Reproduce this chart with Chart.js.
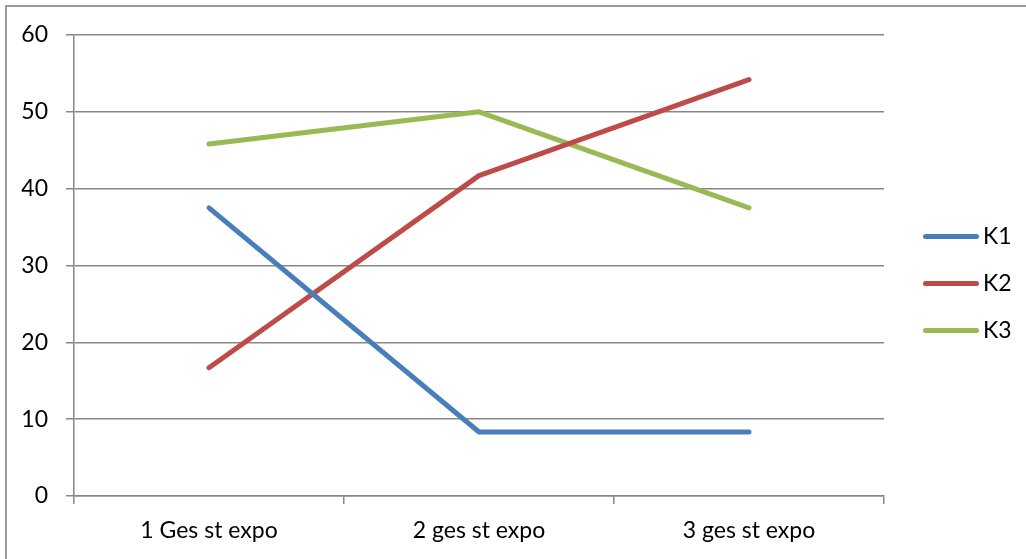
<!DOCTYPE html>
<html>
<head>
<meta charset="utf-8">
<script src="https://cdn.jsdelivr.net/npm/chart.js@4/dist/chart.umd.min.js"></script>
<style>
	body { margin: 0; background: #fff; }
	#wrap { position: relative; width: 1026px; height: 559px; overflow: hidden; }
	#frame { position: absolute; left: 5px; top: 5px; width: 1100px; height: 700px;
		border-left: 2px solid #9a9a9a; border-top: 2px solid #9a9a9a; pointer-events: none; }
	#legend { position: absolute; left: 923px; top: 220px; font-family: Lato, sans-serif; font-size: 23px; color: #000; }
	.item { position: relative; height: 47px; }
	.swatch { position: absolute; left: 0; top: 14px; width: 56px; height: 5px; border-radius: 3px; }
	.lbl { position: absolute; left: 60px; top: 1px; }
</style>
</head>
<body>
<div id="wrap">
	<canvas id="mycanvas" width="1026" height="559"></canvas>
	<div id="frame"></div>
	<div id="legend"></div>
</div>
<script>
var categories = ["1 Ges st expo", "2 ges st expo", "3 ges st expo"];
var k1_values = [37.5, 8.33, 8.33];
var k2_values = [16.7, 41.7, 54.2];
var k3_values = [45.8, 50, 37.5];
var series_names = ["K1", "K2", "K3"];
var series_colors = ["#4a7ebb", "#be4b48", "#98b954"];

var gridColor = "#878787";
var fontSpec = { family: "Lato, sans-serif", size: 23 };

var chartdata = {
	labels: categories,
	datasets: [
		{ label: series_names[0], data: k1_values, borderColor: series_colors[0], backgroundColor: series_colors[0] },
		{ label: series_names[1], data: k2_values, borderColor: series_colors[1], backgroundColor: series_colors[1] },
		{ label: series_names[2], data: k3_values, borderColor: series_colors[2], backgroundColor: series_colors[2] }
	]
};

var ctx = document.getElementById("mycanvas");

var LineGraph = new Chart(ctx, {
	type: 'line',
	data: chartdata,
	options: {
		responsive: false,
		animation: false,
		layout: { padding: { left: 0, right: 142, top: 35, bottom: 0 } },
		elements: {
			line: { borderWidth: 5, tension: 0, borderCapStyle: 'round', borderJoinStyle: 'round', fill: false },
			point: { radius: 0, hoverRadius: 0 }
		},
		plugins: {
			legend: { display: false },
			tooltip: { enabled: false }
		},
		scales: {
			x: {
				offset: true,
				grid: { offset: true, drawOnChartArea: false, drawTicks: true, tickLength: 8, color: gridColor, lineWidth: 1.5 },
				border: { color: gridColor, width: 1.5 },
				ticks: { color: "#000", font: fontSpec, padding: 13, maxRotation: 0 },
				afterFit: function(scale) { scale.height = 63; }
			},
			y: {
				min: 0,
				max: 60,
				grid: { color: gridColor, lineWidth: 1.5, tickLength: 8 },
				border: { color: gridColor, width: 1.5 },
				ticks: { stepSize: 10, color: "#000", font: fontSpec, padding: 18 },
				afterFit: function(scale) { scale.width = 74; }
			}
		}
	}
});

// legend built from the chart's datasets
var legend = document.getElementById("legend");
LineGraph.data.datasets.forEach(function(ds) {
	var item = document.createElement("div");
	item.className = "item";
	item.innerHTML = '<div class="swatch" style="background:' + ds.borderColor + '"></div><div class="lbl">' + ds.label + '</div>';
	legend.appendChild(item);
});
</script>
</body>
</html>
